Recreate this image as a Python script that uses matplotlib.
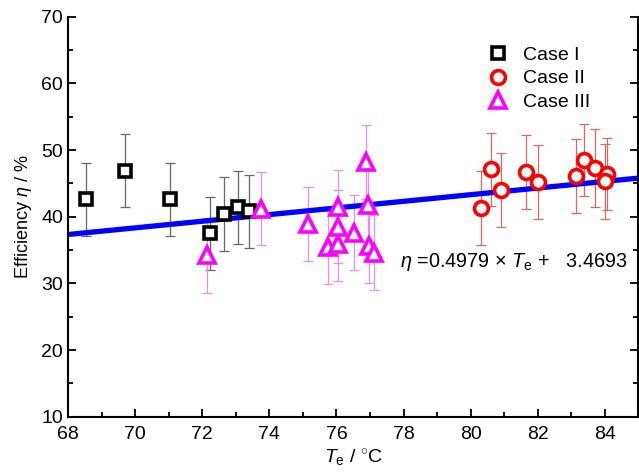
import matplotlib
matplotlib.use('Agg')
import matplotlib.pyplot as plt
import numpy as np

plt.rcParams['font.family'] = ['Liberation Sans', 'DejaVu Sans']
plt.rcParams['mathtext.fontset'] = 'custom'
plt.rcParams['mathtext.rm'] = 'Liberation Sans'
plt.rcParams['mathtext.it'] = 'Liberation Sans:italic'

# Case I (black squares)
t_case1 = [68.54, 69.71, 71.05, 72.23, 72.65, 73.08, 73.38]
eff_case1 = [42.6, 46.9, 42.6, 37.5, 40.4, 41.4, 40.8]
err_case1 = [5.5, 5.5, 5.5, 5.5, 5.5, 5.5, 5.5]

# Case II (red circles)
t_case2 = [80.31, 80.60, 80.90, 81.65, 82.01, 83.15, 83.38, 83.71, 84.06, 84.00]
eff_case2 = [41.3, 47.1, 44.0, 46.7, 45.2, 46.1, 48.5, 47.3, 46.4, 45.3]
err_case2 = [5.6, 5.5, 5.5, 5.6, 5.5, 5.5, 5.4, 5.8, 5.4, 5.6]

# Case III (magenta triangles)
t_case3 = [72.15, 73.75, 75.16, 75.75, 76.04, 76.06, 76.06, 76.51, 76.89, 76.93, 76.96, 77.11]
eff_case3 = [34.2, 41.2, 38.9, 35.4, 35.9, 38.5, 41.5, 37.6, 48.2, 41.7, 35.6, 34.6]
err_case3 = [5.6, 5.5, 5.5, 5.5, 5.5, 5.5, 5.5, 5.6, 5.5, 5.5, 5.5, 5.6]

# linear fit
slope = 0.4979
intercept = 3.4693

fig = plt.figure(figsize=(6.39, 4.74), dpi=100)
ax = fig.add_axes([0.1064, 0.1209, 0.8928, 0.8439])

ax.errorbar(t_case1, eff_case1, yerr=err_case1, fmt='none', ecolor='#666666',
            elinewidth=0.9, capsize=3.5, capthick=0.9, zorder=1)
ax.errorbar(t_case2, eff_case2, yerr=err_case2, fmt='none', ecolor='#e06666',
            elinewidth=0.9, capsize=3.5, capthick=0.9, zorder=1)
ax.errorbar(t_case3, eff_case3, yerr=err_case3, fmt='none', ecolor='#ec8cec',
            elinewidth=0.9, capsize=3.5, capthick=0.9, zorder=1)

xfit = np.array([68, 85])
ax.plot(xfit, slope * xfit + intercept, color='#0000ff', lw=3.8, zorder=2)

ax.plot(t_case1, eff_case1, ls='none', marker='s', ms=8, mew=2.6,
        mec='black', mfc='white', label='Case I', zorder=3)
ax.plot(t_case2, eff_case2, ls='none', marker='o', ms=10, mew=2.6,
        mec='#ff0000', mfc='white', label='Case II', zorder=3)
ax.plot(t_case3, eff_case3, ls='none', marker='^', ms=11, mew=2.6,
        mec='#ff00ff', mfc='white', label='Case III', zorder=3)

ax.set_xlim(68, 85)
ax.set_ylim(10, 70)
ax.set_xticks(np.arange(68, 85, 2))
ax.set_xticks(np.arange(69, 85, 2), minor=True)
ax.set_yticks(np.arange(10, 71, 10))
ax.set_yticks(np.arange(15, 70, 10), minor=True)

ax.spines['top'].set_visible(False)
for s in ['left', 'bottom', 'right']:
    ax.spines[s].set_linewidth(1.5)
ax.tick_params(which='both', direction='in', right=True, top=False,
               width=1.3, labelsize=14)
ax.tick_params(axis='x', which='major', pad=7)
ax.tick_params(which='major', length=6)
ax.tick_params(which='minor', length=3.5)

ax.set_xlabel(r'$T_{\rm e}$ / $^{\circ}$C', fontsize=14, labelpad=3)
ax.set_ylabel(r'Efficiency $\eta$ / %', fontsize=13, labelpad=5)

# fitted equation
ax.text(77.9, 33.2, r'$\eta$ =0.4979 $\times$ $T_{\rm e}$ +   3.4693',
        fontsize=14.3, va='center', ha='left')

ax.legend(loc='upper right', bbox_to_anchor=(0.94, 0.96), frameon=False,
          fontsize=14, handletextpad=0.7, labelspacing=0.3,
          handlelength=1.2, borderpad=0.2)

fig.savefig('out.png', dpi=100)
